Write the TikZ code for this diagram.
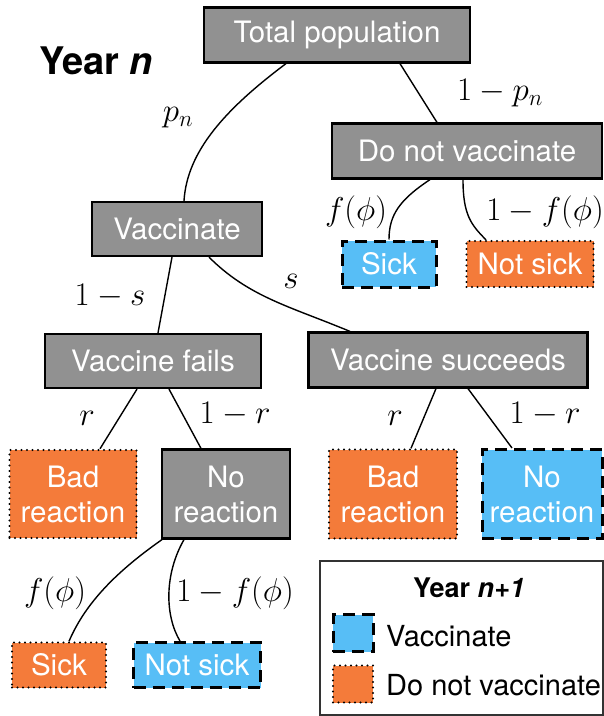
\RequirePackage{fix-cm}
\documentclass[tikz,border=0pt]{standalone}
\usepackage[no-math]{fontspec}
\setmainfont{TeX Gyre Heros}
\usetikzlibrary{positioning}
\definecolor{boxgray}{RGB}{145,145,145}
\definecolor{vacblue}{RGB}{87,190,246}
\definecolor{novacorange}{RGB}{244,123,58}
\tikzset{
	box/.style={draw=black, line width=2.2pt, fill=boxgray, text=white, inner sep=0pt, align=center, font=\fontsize{29.5}{35}\selectfont},
	vacbox/.style={box, fill=vacblue, dash pattern=on 12pt off 7pt, line width=3pt},
	novacbox/.style={box, fill=novacorange, dash pattern=on 0pt off 5.5pt, line cap=round, line width=2.4pt},
	conn/.style={line width=1.4pt},
	lbl/.style={font=\fontsize{33}{36}\selectfont, inner sep=0pt}
}

\begin{document}
\begin{tikzpicture}[x=1pt, y=-1pt]
		\useasboundingbox (0,0) rectangle (604,716);
		% tree boxes
		\node[box, minimum width=266pt, minimum height=55pt] (tot) at (337,35) {Total population};
		\node[box, minimum width=270pt, minimum height=55pt] (dnv) at (467,151) {Do not vaccinate};
		\node[box, minimum width=170pt, minimum height=54pt] (vac) at (177,229) {Vaccinate};
		\node[vacbox, minimum width=94pt, minimum height=46pt] (sick1) at (389,264) {Sick};
		\node[novacbox, minimum width=127pt, minimum height=46pt] (nsick1) at (530,264) {Not sick};
		\node[box, minimum width=216pt, minimum height=54pt] (fails) at (153,361) {Vaccine fails};
		\node[box, minimum width=279pt, minimum height=55pt] (succ) at (448,360) {Vaccine succeeds};
		\node[novacbox, minimum width=127pt, minimum height=88pt] (bad1) at (73,494) {Bad\\reaction};
		\node[box, minimum width=128pt, minimum height=89pt] (nore1) at (226,494) {No\\reaction};
		\node[novacbox, minimum width=128pt, minimum height=89pt] (bad2) at (393,494) {Bad\\reaction};
		\node[vacbox, minimum width=120pt, minimum height=89pt] (nore2) at (542,494) {No\\reaction};
		\node[novacbox, minimum width=94pt, minimum height=45pt] (sick2) at (59,665) {Sick};
		\node[vacbox, minimum width=127pt, minimum height=45pt] (nsick2) at (197,665) {Not sick};
		\node[font=\fontsize{38}{42}\selectfont\bfseries] (year) at (96,61) {Year \textit{n}};
		% straight branches
		\foreach \a/\sa/\b/\sb in {tot/63/dnv/-30, vac/-5/fails/5, fails/-16/bad1/27, fails/16/nore1/-25, succ/-12/bad2/18, succ/20/nore2/-30}{\draw[conn] ([xshift=\sa pt]\a.south) -- ([xshift=\sb pt]\b.north);}
		% curved branches
		\draw[conn] ([xshift=-51pt]tot.south) .. controls +(-60,45) and +(3,-50) .. ([xshift=7pt]vac.north);
		\draw[conn] ([xshift=-37pt]dnv.south) .. controls +(-30,20) and +(0,-25) .. (sick1.north);
		\draw[conn] ([xshift=-4pt]dnv.south) .. controls +(0,35) and +(-15,-15) .. ([xshift=-44pt]nsick1.north);
		\draw[conn] ([xshift=32pt]vac.south) .. controls +(40,40) and +(-60,-25) .. ([xshift=-98pt]succ.north);
		\draw[conn] ([xshift=-64pt]nore1.south) .. controls +(-50,35) and +(15,-35) .. ([xshift=10pt]sick2.north);
		\draw[conn] ([xshift=-42pt]nore1.south) .. controls +(-20,35) and +(-15,-25) .. ([xshift=-17pt]nsick2.north);
		% branch probabilities
		\foreach \i/\x/\y/\t in {1/178/118/{$p_n$}, 2/500/93/{$1-p_n$}, 3/356/212/{$f(\phi)$}, 4/545/212/{$1-f(\phi)$}, 5/110/296/{$1-s$}, 6/291/281/{$s$}, 7/87/418/{$r$}, 8/235/414/{$1-r$}, 9/395/418/{$r$}, 10/545/414/{$1-r$}, 11/55/593/{$f(\phi)$}, 12/235/593/{$1-f(\phi)$}}{\node[lbl] (l\i) at (\x,\y) {\t};}
		% legend
		\node[draw=black!80, line width=1.5pt, minimum width=283pt, minimum height=154pt, inner sep=0pt] (legend) at (461.5,638) {};
		\node[font=\fontsize{27}{30}\selectfont\bfseries] (ltitle) at (469,588) {Year \textit{n+1}};
		\node[vacbox, minimum width=40pt, minimum height=37pt] (lvac) at (353,633) {};
		\node[novacbox, minimum width=40pt, minimum height=37pt] (lnovac) at (353,684) {};
		\node[anchor=west, font=\fontsize{29}{30}\selectfont, inner sep=0pt] (lvact) at (386,636) {Vaccinate};
		\node[anchor=west, font=\fontsize{29}{30}\selectfont, inner sep=0pt] (lnovact) at (386,685) {Do not vaccinate};
	\end{tikzpicture}
\end{document}
